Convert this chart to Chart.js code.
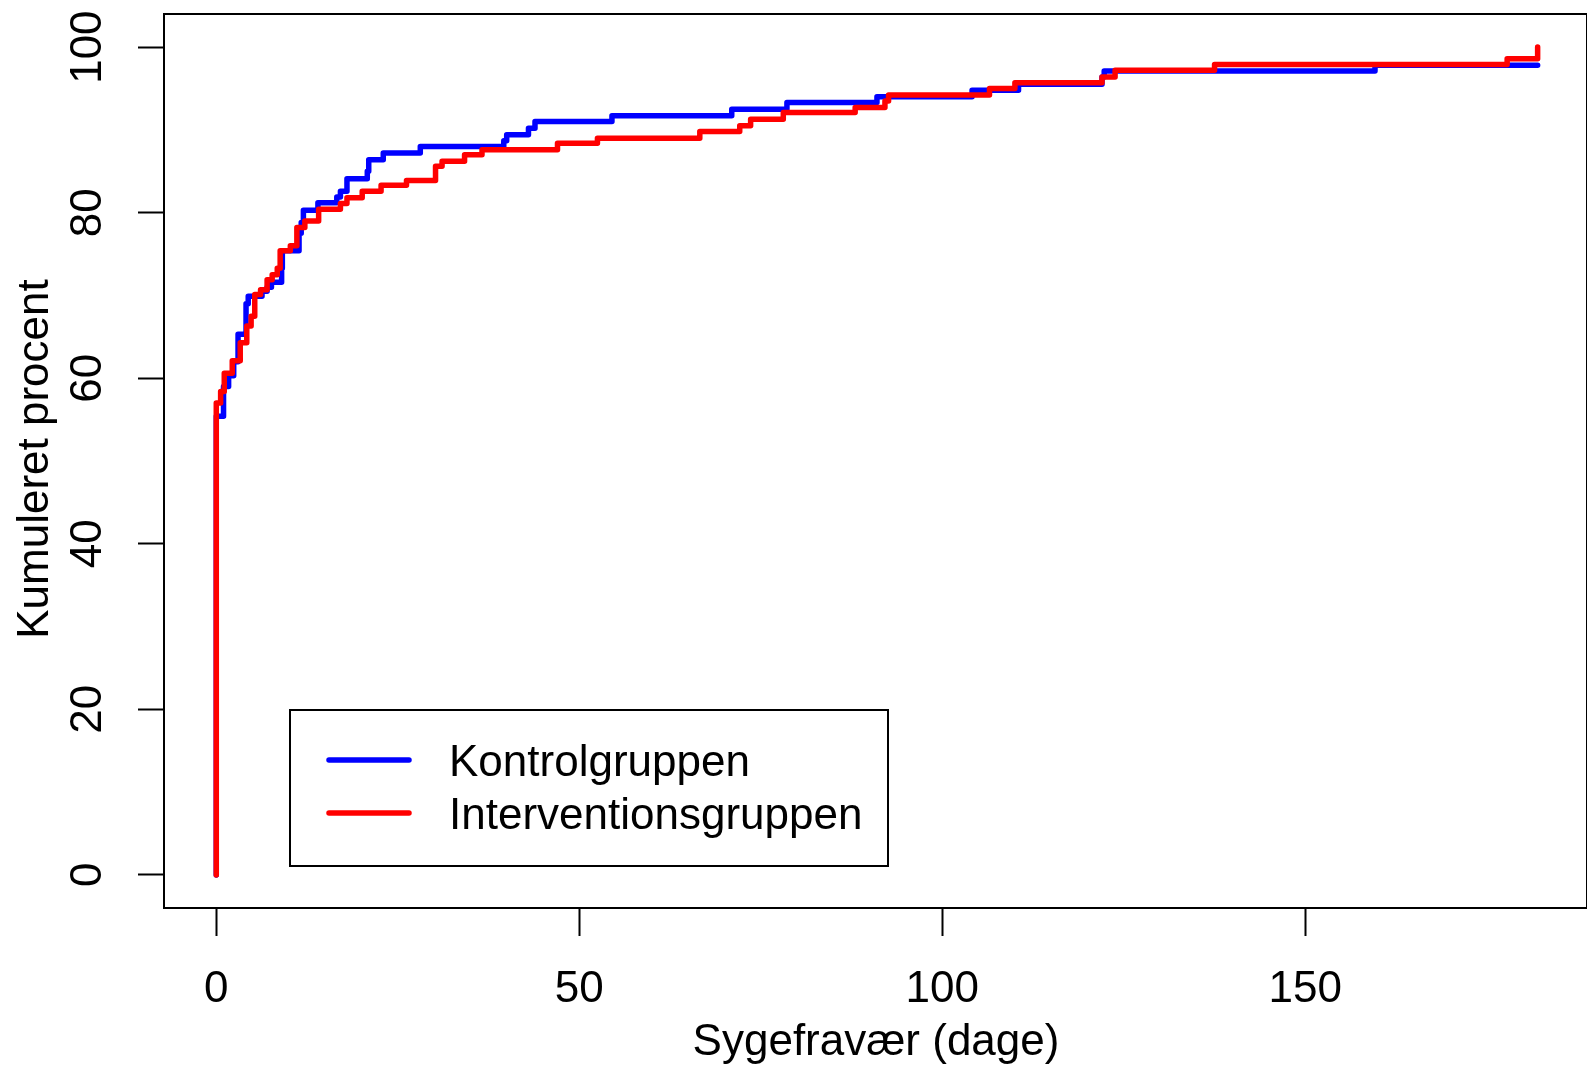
<!DOCTYPE html>
<html>
<head>
<meta charset="utf-8">
<script src="https://cdn.jsdelivr.net/npm/chart.js@4.4.1/dist/chart.umd.min.js"></script>
<style>
    html, body { margin: 0; padding: 0; background: #fff; }
    canvas { display: block; }
</style>
</head>
<body>
<canvas id="cumChart" width="1587" height="1066"></canvas>
<script>
// tick labels
const xTicks = [0, 50, 100, 150];
const yTicks = [0, 20, 40, 60, 80, 100];

// Kontrolgruppen: day where the step happens, cumulative percent after the step
const kontrolDays = [0, 0, 1.0, 1.7, 2.4, 3.0, 4.1, 4.4, 6.3, 7.0, 7.6, 9.0, 9.1, 11.4, 11.7, 12.0, 14.0,
    16.6, 17.1, 18.0, 20.8, 21.0, 23.0, 28.1, 39.6, 40.0, 43.0, 43.9, 54.5, 71.0, 78.6, 91.0,
    104.1, 110.5, 122.0, 122.3, 159.6, 182.0];
const kontrolPct = [0, 55.4, 59.0, 60.3, 62.0, 65.3, 69.0, 69.9, 70.5, 71.0, 71.6, 73.3, 75.4, 77.5, 78.8, 80.3, 81.2,
    81.9, 82.6, 84.1, 85.0, 86.4, 87.2, 88.0, 88.7, 89.4, 90.2, 91.0, 91.7, 92.5, 93.3, 94.0,
    94.8, 95.5, 96.4, 97.1, 97.8, 97.8];

// Interventionsgruppen
const interventionDays = [0, 0, 0.6, 1.1, 2.2, 3.3, 4.2, 4.8, 5.3, 6.1, 7.0, 7.7, 8.4, 8.8, 10.2, 11.1, 12.2,
    14.1, 17.1, 18.0, 20.1, 22.7, 26.2, 30.2, 31.1, 34.2, 36.6, 47.0, 52.5, 66.6, 72.1, 73.6, 78.1,
    88.0, 92.1, 92.6, 106.5, 110.0, 122.0, 123.8, 137.5, 177.8, 182.0];
const interventionPct = [0, 57.0, 58.4, 60.6, 62.1, 64.3, 66.3, 67.5, 70.1, 70.7, 71.9, 72.5, 73.3, 75.4, 76.0, 78.2, 79.0,
    80.4, 81.1, 81.8, 82.6, 83.3, 83.9, 85.6, 86.2, 87.0, 87.6, 88.4, 89.0, 89.8, 90.5, 91.3, 92.1,
    92.7, 93.5, 94.2, 95.0, 95.7, 96.4, 97.2, 97.9, 98.6, 100];

const FONT = '"Liberation Sans", Arial, sans-serif';

const toPoints = (days, pct) => days.map((d, i) => ({ x: d, y: pct[i] }));

// box round the plot, rotated y labels, axis titles, legend
const framePlugin = {
    id: 'rFrame',
    afterDraw(chart) {
        const ctx = chart.ctx;
        const area = chart.chartArea;
        const yScale = chart.scales.y;
        ctx.save();
        ctx.strokeStyle = '#000';
        ctx.lineWidth = 2;
        ctx.strokeRect(area.left, area.top, area.right - area.left, area.bottom - area.top);

        ctx.fillStyle = '#000';
        ctx.font = '44px ' + FONT;
        ctx.textAlign = 'center';
        ctx.textBaseline = 'alphabetic';
        yTicks.forEach(v => {
            ctx.save();
            ctx.translate(101, yScale.getPixelForValue(v));
            ctx.rotate(-Math.PI / 2);
            ctx.fillText(String(v), 0, 0);
            ctx.restore();
        });

        ctx.save();
        ctx.translate(48, 459);
        ctx.rotate(-Math.PI / 2);
        ctx.fillText('Kumuleret procent', 0, 0);
        ctx.restore();
        ctx.fillText('Sygefravær (dage)', 876, 1055);

        // legend
        ctx.strokeRect(290, 710, 598, 156);
        chart.data.datasets.forEach((ds, i) => {
            const y = 760 + i * 53;
            ctx.strokeStyle = ds.borderColor;
            ctx.lineWidth = 5.5;
            ctx.lineCap = 'round';
            ctx.beginPath();
            ctx.moveTo(329, y);
            ctx.lineTo(409, y);
            ctx.stroke();
            ctx.textAlign = 'left';
            ctx.fillText(ds.label, 449, y + 16);
        });
        ctx.restore();
    }
};

const ctx = document.getElementById('cumChart').getContext('2d');
const cumChart = new Chart(ctx, {
    type: 'line',
    data: {
        datasets: [{
            label: 'Kontrolgruppen',
            data: toPoints(kontrolDays, kontrolPct),
            borderColor: '#0000ff',
            borderWidth: 5.5,
            borderCapStyle: 'round',
            borderJoinStyle: 'round',
            stepped: true,
            pointRadius: 0,
            fill: false,
            order: 1,
        }, {
            label: 'Interventionsgruppen',
            data: toPoints(interventionDays, interventionPct),
            borderColor: '#ff0000',
            borderWidth: 5.5,
            borderCapStyle: 'round',
            borderJoinStyle: 'round',
            stepped: true,
            pointRadius: 0,
            fill: false,
            order: 0,
        }]
    },
    options: {
        responsive: false,
        animation: false,
        devicePixelRatio: 1,
        layout: {
            padding: { top: 14, right: 0, bottom: 0, left: 0 },
        },
        scales: {
            x: {
                type: 'linear',
                min: -7.2,
                max: 188.8,
                afterBuildTicks: scale => { scale.ticks = xTicks.map(v => ({ value: v })); },
                afterFit: scale => { scale.height = 158; },
                border: { display: false },
                grid: {
                    drawOnChartArea: false,
                    drawTicks: true,
                    tickLength: 28,
                    tickColor: '#000',
                    tickWidth: 2,
                },
                ticks: {
                    color: '#000',
                    padding: 27,
                    maxRotation: 0,
                    font: { family: FONT, size: 44 },
                },
            },
            y: {
                type: 'linear',
                min: -4,
                max: 104,
                afterBuildTicks: scale => { scale.ticks = yTicks.map(v => ({ value: v })); },
                afterFit: scale => { scale.width = 164; },
                border: { display: false },
                grid: {
                    drawOnChartArea: false,
                    drawTicks: true,
                    tickLength: 26,
                    tickColor: '#000',
                    tickWidth: 2,
                },
                ticks: {
                    display: false,
                },
            }
        },
        plugins: {
            legend: { display: false },
            tooltip: { enabled: false },
        },
    },
    plugins: [framePlugin]
});
</script>
</body>
</html>
